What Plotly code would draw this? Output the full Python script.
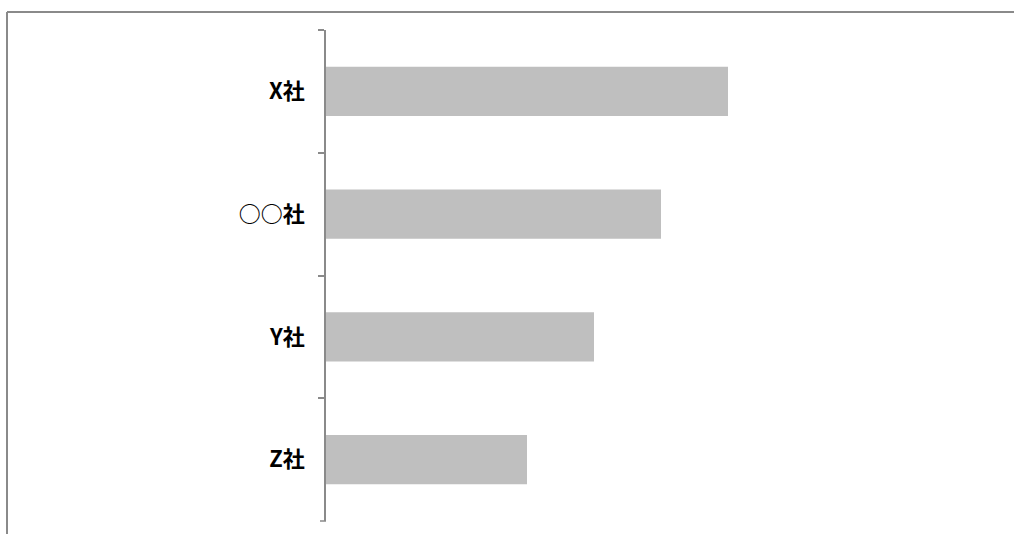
import plotly.graph_objects as go

# Company names (top to bottom) and their scores
companies = ["X社", "○○社", "Y社", "Z社"]
scores = [6, 5, 4, 3]

W, H = 1014, 534
L, R, T, B = 326, 18, 30, 13
plot_w = W - L - R
plot_h = H - T - B


def px_to_paper_x(px):
    return (px - L) / plot_w


def px_to_paper_y(py):
    return (H - B - py) / plot_h


fig = go.Figure(
    go.Bar(
        x=scores,
        y=companies,
        orientation="h",
        width=0.4,
        marker=dict(color="#bfbfbf", line=dict(width=0)),
        hoverinfo="x+y",
    )
)

border_color = "#8a8a8a"
axis_color = "#8a8a8a"

# Outer frame: top and left edges
fig.add_shape(type="line", xref="paper", yref="paper",
              x0=px_to_paper_x(7), x1=px_to_paper_x(W + 2),
              y0=px_to_paper_y(12), y1=px_to_paper_y(12),
              line=dict(color=border_color, width=2))
fig.add_shape(type="line", xref="paper", yref="paper",
              x0=px_to_paper_x(7), x1=px_to_paper_x(7),
              y0=px_to_paper_y(12), y1=px_to_paper_y(H + 2),
              line=dict(color=border_color, width=2))

# Closing tick at the bottom end of the category axis
fig.add_shape(type="line", xref="paper", yref="paper",
              x0=px_to_paper_x(L - 6), x1=0, y0=0, y1=0,
              line=dict(color=axis_color, width=1.5))

fig.update_layout(
    width=W,
    height=H,
    margin=dict(l=L, r=R, t=T, b=B, pad=0),
    paper_bgcolor="white",
    plot_bgcolor="white",
    showlegend=False,
    xaxis=dict(range=[0, 10], visible=False, showgrid=False, zeroline=False),
    yaxis=dict(
        autorange="reversed",
        showline=True,
        linecolor=axis_color,
        linewidth=1.5,
        ticks="outside",
        tickson="boundaries",
        ticklen=6,
        tickwidth=1.5,
        tickcolor=axis_color,
        showgrid=False,
        zeroline=False,
        ticklabelstandoff=15,
        tickfont=dict(family="Noto Sans CJK JP, Noto Sans CJK SC, sans-serif",
                      size=22, color="black", weight="bold"),
    ),
)

fig.write_html("out.html")
